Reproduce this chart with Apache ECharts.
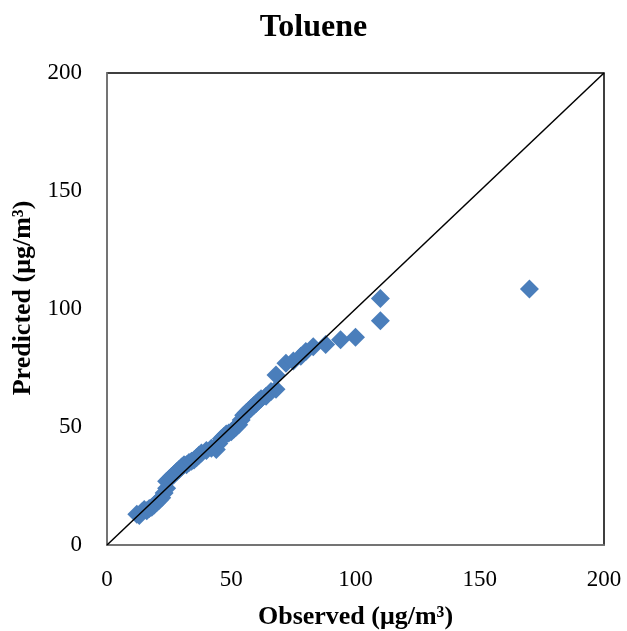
<!DOCTYPE html>
<html>
<head>
<meta charset="utf-8">
<script src="https://cdn.jsdelivr.net/npm/echarts@6/dist/echarts.min.js"></script>
<style>
html, body { margin: 0; padding: 0; background: #fff; }
#chart { width: 627px; height: 631px; }
</style>
</head>
<body>
<div id="chart"></div>
<script>
// observed / predicted pairs (ug/m3)
const observed = [12, 13, 14, 15, 16, 17, 18, 19, 20, 21, 22, 23, 24, 24, 25, 26, 27, 28, 29, 30,
  31, 32, 33, 34, 35, 36, 37, 38, 40, 42, 44, 45, 46, 47, 48, 49, 50, 51, 52, 53,
  54, 55, 56, 57, 58, 59, 60, 61, 62, 64, 66, 68, 68, 72, 75, 78, 80, 83, 88, 94,
  100, 110, 110, 170]
const predicted = [13, 12.5, 14, 15, 14.5, 15.5, 16, 17, 18, 19, 20, 22, 24, 27, 28, 29, 30, 31, 32, 33,
  34, 34, 35, 35.5, 36, 37, 38, 39, 40, 41, 40.5, 43, 45, 46, 47, 47.5, 48, 49, 50, 51,
  53, 55, 56, 57, 58, 59, 60, 61, 62, 63, 65, 66, 72, 77, 78, 80, 82, 84, 85, 87,
  88, 95, 104.5, 108.5]
const oneToOne = [[0, 0], [200, 200]]
const ticks = [0, 50, 100, 150, 200]

const points = observed.map((x, i) => [x, predicted[i]])

const chart = echarts.init(document.getElementById('chart'))
const font = '"Liberation Serif", "Times New Roman", serif'

const axisCommon = {
  type: 'value',
  min: ticks[0],
  max: ticks[ticks.length - 1],
  interval: 50,
  splitLine: { show: false },
  axisTick: { show: false },
  axisLine: { show: true, lineStyle: { color: '#868686', width: 1.5 } },
  axisLabel: { color: '#000', fontFamily: font, fontSize: 23 },
  nameLocation: 'middle',
  nameTextStyle: { color: '#000', fontFamily: font, fontSize: 26, fontWeight: 'bold' }
}

chart.setOption({
  animation: false,
  title: {
    text: 'Toluene',
    left: 'center',
    top: 7,
    textStyle: { color: '#000', fontFamily: font, fontSize: 32, fontWeight: 'bold' }
  },
  grid: {
    left: 107, right: 23, top: 73, bottom: 86,
    outerBoundsMode: 'none',
    show: true, borderColor: '#000', borderWidth: 1.5
  },
  xAxis: Object.assign({}, axisCommon, {
    name: 'Observed (μg/m³)',
    nameGap: 59,
    axisLabel: Object.assign({}, axisCommon.axisLabel, { margin: 23 })
  }),
  yAxis: Object.assign({}, axisCommon, {
    name: 'Predicted (μg/m³)',
    nameGap: 69,
    nameRotate: 90,
    nameTextStyle: Object.assign({}, axisCommon.nameTextStyle, { padding: [0, 0, 0, 22] }),
    axisLabel: Object.assign({}, axisCommon.axisLabel, { margin: 25 })
  }),
  series: [
    {
      type: 'scatter',
      data: points,
      symbol: 'diamond',
      symbolSize: 19,
      itemStyle: { color: '#4a7ebb', opacity: 1 }
    },
    {
      type: 'line',
      data: oneToOne,
      showSymbol: false,
      symbol: 'none',
      lineStyle: { color: '#000', width: 1.5 },
      z: 5
    }
  ]
})
</script>
</body>
</html>
